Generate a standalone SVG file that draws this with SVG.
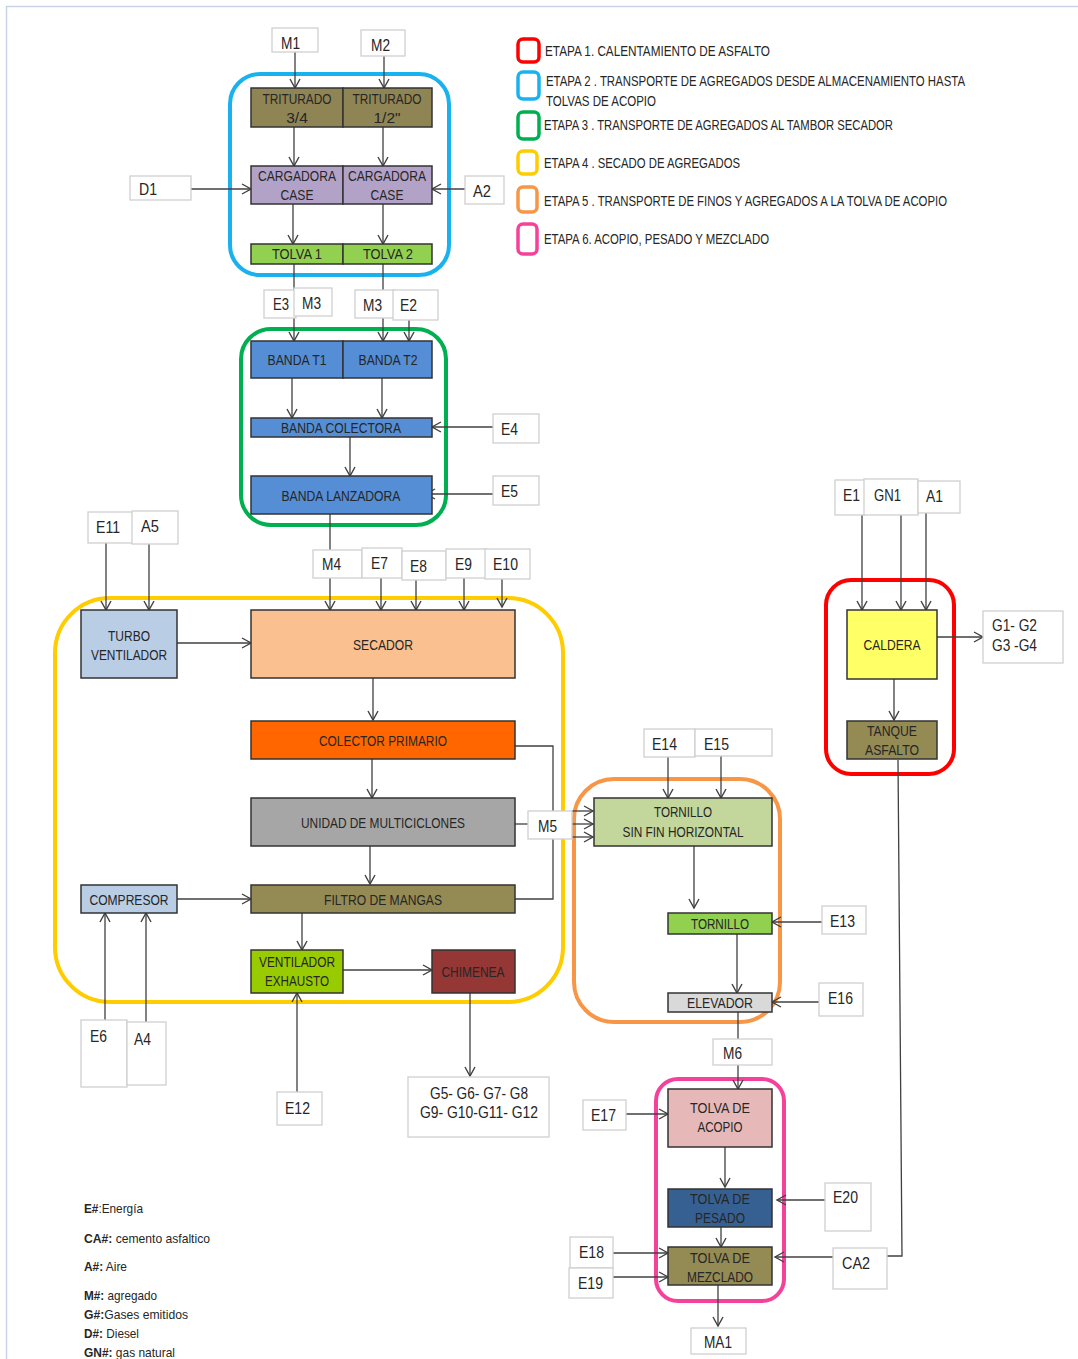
<svg xmlns="http://www.w3.org/2000/svg" width="1078" height="1359" viewBox="0 0 1078 1359">
  <defs>
    <marker id="arr" viewBox="-11 -7 13 14" markerWidth="13" markerHeight="14" refX="0" refY="0" orient="auto" markerUnits="userSpaceOnUse">
      <path d="M-9,-5 L0,0 L-9,5" fill="none" stroke="#404040" stroke-width="1.4"/>
    </marker>
    <style>
      .bg { fill: #ffffff; }
      .frame { stroke: #c8d3e8; stroke-width: 1.5; fill: none; }
      .stage { fill: none; stroke-width: 4; }
      .node { stroke: #333333; stroke-width: 1.5; }
      .lbl { fill: #ffffff; stroke: #d0d0d0; stroke-width: 1.3; }
      .n { font-family: "Liberation Sans", Arial, sans-serif; font-size: 15.5px; fill: #262626; text-anchor: middle; }
      .l { font-family: "Liberation Sans", Arial, sans-serif; font-size: 16.5px; fill: #262626; }
      .lc { font-family: "Liberation Sans", Arial, sans-serif; font-size: 16px; fill: #262626; text-anchor: middle; }
      .leg { font-family: "Liberation Sans", Arial, sans-serif; font-size: 14.5px; fill: #262626; }
      .key { font-family: "Liberation Sans", Arial, sans-serif; font-size: 13px; fill: #262626; }
      .key .b { font-weight: bold; }
      .conn line, .conn polyline { stroke: #404040; stroke-width: 1.3; fill: none; }
      .conn .a { marker-end: url(#arr); }
    </style>
  </defs>

  <rect class="bg" x="0" y="0" width="1078" height="1359"/>
  <path class="frame" d="M6.5,1359 V6.5 H1078"/>

  <!-- stage outlines -->
  <g id="stages">
    <rect class="stage" x="230" y="74" width="219" height="201" rx="30" stroke="#1ab2ee"/>
    <rect class="stage" x="241" y="329" width="205" height="196" rx="30" stroke="#00b050"/>
    <rect class="stage" x="55" y="598" width="508" height="404" rx="55" stroke="#ffcc00"/>
    <rect class="stage" x="574" y="779" width="206" height="243" rx="40" stroke="#f79646" stroke-width="3.5"/>
    <rect class="stage" x="826" y="580" width="128" height="194" rx="25" stroke="#ff0000"/>
    <rect class="stage" x="656" y="1079" width="128" height="222" rx="22" stroke="#f4429b" stroke-width="3.5"/>
  </g>

  <!-- legend of stages -->
  <g id="legend">
    <rect x="518" y="39" width="21" height="23" rx="5" fill="#fff" stroke="#ff0000" stroke-width="3.5"/>
    <rect x="518" y="72" width="21" height="27" rx="5" fill="#fff" stroke="#1ab2ee" stroke-width="3.5"/>
    <rect x="518" y="112" width="21" height="27" rx="5" fill="#fff" stroke="#00b050" stroke-width="3.5"/>
    <rect x="518" y="151" width="19" height="23" rx="5" fill="#fff" stroke="#ffcc00" stroke-width="3.5"/>
    <rect x="518" y="187" width="19" height="25" rx="5" fill="#fff" stroke="#f79646" stroke-width="3.5"/>
    <rect x="518" y="224" width="19" height="30" rx="5" fill="#fff" stroke="#f4429b" stroke-width="3.5"/>
    <text class="leg" x="545" y="56" textLength="225" lengthAdjust="spacingAndGlyphs">ETAPA 1. CALENTAMIENTO DE ASFALTO</text>
    <text class="leg" x="546" y="86" textLength="419" lengthAdjust="spacingAndGlyphs">ETAPA 2 . TRANSPORTE DE AGREGADOS DESDE ALMACENAMIENTO HASTA</text>
    <text class="leg" x="546" y="106" textLength="110" lengthAdjust="spacingAndGlyphs">TOLVAS DE ACOPIO</text>
    <text class="leg" x="544" y="130" textLength="349" lengthAdjust="spacingAndGlyphs">ETAPA 3 . TRANSPORTE DE AGREGADOS AL TAMBOR SECADOR</text>
    <text class="leg" x="544" y="168" textLength="196" lengthAdjust="spacingAndGlyphs">ETAPA 4 . SECADO DE AGREGADOS</text>
    <text class="leg" x="544" y="206" textLength="403" lengthAdjust="spacingAndGlyphs">ETAPA 5 . TRANSPORTE DE FINOS Y AGREGADOS A LA TOLVA DE ACOPIO</text>
    <text class="leg" x="544" y="244" textLength="225" lengthAdjust="spacingAndGlyphs">ETAPA 6. ACOPIO, PESADO Y MEZCLADO</text>
  </g>

  <!-- connectors -->
  <g id="connectors" class="conn">
    <line class="a" x1="295" y1="52" x2="295" y2="88"/>
    <line class="a" x1="384" y1="56" x2="384" y2="88"/>
    <line class="a" x1="294" y1="127" x2="294" y2="166"/>
    <line class="a" x1="383" y1="127" x2="383" y2="166"/>
    <line class="a" x1="191" y1="189" x2="251" y2="189"/>
    <line class="a" x1="465" y1="189" x2="432" y2="189"/>
    <line class="a" x1="293" y1="204" x2="293" y2="244"/>
    <line class="a" x1="383" y1="204" x2="383" y2="244"/>
    <line class="a" x1="294" y1="264" x2="294" y2="341"/>
    <line class="a" x1="383" y1="264" x2="383" y2="341"/>
    <line class="a" x1="409" y1="320" x2="409" y2="341"/>
    <line class="a" x1="292" y1="378" x2="292" y2="418"/>
    <line class="a" x1="382" y1="378" x2="382" y2="418"/>
    <line class="a" x1="493" y1="427" x2="432" y2="427"/>
    <line class="a" x1="350" y1="437" x2="350" y2="476"/>
    <line class="a" x1="493" y1="494" x2="426" y2="494"/>
    <line class="a" x1="330" y1="514" x2="330" y2="610"/>
    <line class="a" x1="381" y1="578" x2="381" y2="610"/>
    <line class="a" x1="416" y1="580" x2="416" y2="610"/>
    <line class="a" x1="464" y1="578" x2="464" y2="610"/>
    <line class="a" x1="502" y1="579" x2="502" y2="607"/>
    <line class="a" x1="106" y1="543" x2="106" y2="610"/>
    <line class="a" x1="149" y1="544" x2="149" y2="610"/>
    <line class="a" x1="177" y1="643" x2="251" y2="643"/>
    <line class="a" x1="373" y1="678" x2="373" y2="720"/>
    <line class="a" x1="372" y1="759" x2="372" y2="798"/>
    <line class="a" x1="370" y1="846" x2="370" y2="884"/>
    <line class="a" x1="177" y1="899" x2="251" y2="899"/>
    <line class="a" x1="105" y1="1020" x2="105" y2="913"/>
    <line class="a" x1="146" y1="1022" x2="146" y2="913"/>
    <line class="a" x1="302" y1="913" x2="302" y2="950"/>
    <line class="a" x1="343" y1="970" x2="432" y2="970"/>
    <line class="a" x1="297" y1="1092" x2="297" y2="993"/>
    <line class="a" x1="470" y1="993" x2="470" y2="1076"/>
    <polyline points="515,746 553,746 553,899 515,899"/>
    <line x1="515" y1="824" x2="528" y2="824"/>
    <line class="a" x1="572" y1="811" x2="593" y2="811"/>
    <line class="a" x1="572" y1="824" x2="593" y2="824"/>
    <line class="a" x1="572" y1="837" x2="593" y2="837"/>
    <line class="a" x1="668" y1="757" x2="668" y2="798"/>
    <line class="a" x1="721" y1="756" x2="721" y2="798"/>
    <line class="a" x1="694" y1="846" x2="694" y2="908"/>
    <line class="a" x1="822" y1="922" x2="772" y2="922"/>
    <line class="a" x1="737" y1="934" x2="737" y2="993"/>
    <line class="a" x1="819" y1="1002" x2="772" y2="1002"/>
    <line x1="738" y1="1012" x2="738" y2="1039"/>
    <line class="a" x1="738" y1="1065" x2="738" y2="1089"/>
    <line class="a" x1="626" y1="1114" x2="668" y2="1114"/>
    <line class="a" x1="725" y1="1147" x2="725" y2="1187"/>
    <line class="a" x1="825" y1="1200" x2="777" y2="1200"/>
    <line class="a" x1="721" y1="1227" x2="721" y2="1247"/>
    <line class="a" x1="613" y1="1253" x2="668" y2="1253"/>
    <line class="a" x1="613" y1="1277" x2="668" y2="1277"/>
    <line class="a" x1="833" y1="1257" x2="775" y2="1257"/>
    <polyline points="898,760 902,1256 887,1256"/>
    <line class="a" x1="718" y1="1285" x2="718" y2="1326"/>
    <line class="a" x1="862" y1="515" x2="862" y2="610"/>
    <line class="a" x1="901" y1="515" x2="901" y2="610"/>
    <line class="a" x1="926" y1="513" x2="926" y2="610"/>
    <line class="a" x1="937" y1="637" x2="983" y2="637"/>
    <line class="a" x1="894" y1="679" x2="894" y2="720"/>
  </g>

  <!-- stage 2: storage to hoppers -->
  <g id="triturado-34"><rect class="node" x="251" y="88" width="92" height="39" fill="#8f8454"/>
    <text class="n" x="297" y="104" textLength="69" lengthAdjust="spacingAndGlyphs">TRITURADO</text>
    <text class="n" x="297" y="123">3/4</text></g>
  <g id="triturado-12"><rect class="node" x="343" y="88" width="89" height="39" fill="#8f8454"/>
    <text class="n" x="387" y="104" textLength="69" lengthAdjust="spacingAndGlyphs">TRITURADO</text>
    <text class="n" x="387" y="123">1/2"</text></g>
  <g id="cargadora-1"><rect class="node" x="251" y="166" width="92" height="38" fill="#b3a2c7"/>
    <text class="n" x="297" y="181" textLength="78" lengthAdjust="spacingAndGlyphs">CARGADORA</text>
    <text class="n" x="297" y="200" textLength="33" lengthAdjust="spacingAndGlyphs">CASE</text></g>
  <g id="cargadora-2"><rect class="node" x="343" y="166" width="89" height="38" fill="#b3a2c7"/>
    <text class="n" x="387" y="181" textLength="78" lengthAdjust="spacingAndGlyphs">CARGADORA</text>
    <text class="n" x="387" y="200" textLength="33" lengthAdjust="spacingAndGlyphs">CASE</text></g>
  <g id="tolva-1"><rect class="node" x="251" y="244" width="92" height="20" fill="#92d050"/>
    <text class="n" x="297" y="259" textLength="50" lengthAdjust="spacingAndGlyphs">TOLVA 1</text></g>
  <g id="tolva-2"><rect class="node" x="343" y="244" width="89" height="20" fill="#92d050"/>
    <text class="n" x="388" y="259" textLength="50" lengthAdjust="spacingAndGlyphs">TOLVA 2</text></g>

  <!-- stage 3: conveyor belts -->
  <g id="banda-t1"><rect class="node" x="251" y="341" width="92" height="37" fill="#558ed5"/>
    <text class="n" x="297" y="365" textLength="59" lengthAdjust="spacingAndGlyphs">BANDA T1</text></g>
  <g id="banda-t2"><rect class="node" x="343" y="341" width="89" height="37" fill="#558ed5"/>
    <text class="n" x="388" y="365" textLength="59" lengthAdjust="spacingAndGlyphs">BANDA T2</text></g>
  <g id="banda-colectora"><rect class="node" x="251" y="418" width="181" height="19" fill="#558ed5"/>
    <text class="n" x="341" y="433" textLength="120" lengthAdjust="spacingAndGlyphs">BANDA COLECTORA</text></g>
  <g id="banda-lanzadora"><rect class="node" x="251" y="476" width="181" height="38" fill="#558ed5"/>
    <text class="n" x="341" y="501" textLength="119" lengthAdjust="spacingAndGlyphs">BANDA LANZADORA</text></g>

  <!-- stage 4: drying -->
  <g id="turbo-ventilador"><rect class="node" x="81" y="610" width="96" height="68" fill="#b9cde5"/>
    <text class="n" x="129" y="641" textLength="42" lengthAdjust="spacingAndGlyphs">TURBO</text>
    <text class="n" x="129" y="660" textLength="76" lengthAdjust="spacingAndGlyphs">VENTILADOR</text></g>
  <g id="secador"><rect class="node" x="251" y="610" width="264" height="68" fill="#fac090"/>
    <text class="n" x="383" y="650" textLength="60" lengthAdjust="spacingAndGlyphs">SECADOR</text></g>
  <g id="colector-primario"><rect class="node" x="251" y="721" width="264" height="38" fill="#ff6600"/>
    <text class="n" x="383" y="746" textLength="128" lengthAdjust="spacingAndGlyphs">COLECTOR PRIMARIO</text></g>
  <g id="multiciclones"><rect class="node" x="251" y="798" width="264" height="48" fill="#a6a6a6"/>
    <text class="n" x="383" y="828" textLength="164" lengthAdjust="spacingAndGlyphs">UNIDAD DE MULTICICLONES</text></g>
  <g id="compresor"><rect class="node" x="81" y="885" width="96" height="28" fill="#b9cde5"/>
    <text class="n" x="129" y="905" textLength="79" lengthAdjust="spacingAndGlyphs">COMPRESOR</text></g>
  <g id="filtro-mangas"><rect class="node" x="251" y="885" width="264" height="28" fill="#948a54"/>
    <text class="n" x="383" y="905" textLength="118" lengthAdjust="spacingAndGlyphs">FILTRO DE MANGAS</text></g>
  <g id="ventilador-exhausto"><rect class="node" x="251" y="950" width="92" height="43" fill="#99cc00"/>
    <text class="n" x="297" y="967" textLength="76" lengthAdjust="spacingAndGlyphs">VENTILADOR</text>
    <text class="n" x="297" y="986" textLength="64" lengthAdjust="spacingAndGlyphs">EXHAUSTO</text></g>
  <g id="chimenea"><rect class="node" x="432" y="950" width="83" height="43" fill="#953735"/>
    <text class="n" x="473" y="977" textLength="63" lengthAdjust="spacingAndGlyphs">CHIMENEA</text></g>

  <!-- stage 5: fines transport -->
  <g id="tornillo-sin-fin"><rect class="node" x="594" y="798" width="178" height="48" fill="#c3d69b"/>
    <text class="n" x="683" y="817" textLength="58" lengthAdjust="spacingAndGlyphs">TORNILLO</text>
    <text class="n" x="683" y="837" textLength="121" lengthAdjust="spacingAndGlyphs">SIN FIN HORIZONTAL</text></g>
  <g id="tornillo"><rect class="node" x="668" y="913" width="104" height="21" fill="#92d050"/>
    <text class="n" x="720" y="929" textLength="58" lengthAdjust="spacingAndGlyphs">TORNILLO</text></g>
  <g id="elevador"><rect class="node" x="668" y="993" width="104" height="19" fill="#d9d9d9"/>
    <text class="n" x="720" y="1008" textLength="66" lengthAdjust="spacingAndGlyphs">ELEVADOR</text></g>

  <!-- stage 1: asphalt heating -->
  <g id="caldera"><rect class="node" x="847" y="610" width="90" height="69" fill="#ffff66"/>
    <text class="n" x="892" y="650" textLength="57" lengthAdjust="spacingAndGlyphs">CALDERA</text></g>
  <g id="tanque-asfalto"><rect class="node" x="847" y="721" width="90" height="38" fill="#948a54"/>
    <text class="n" x="892" y="736" textLength="50" lengthAdjust="spacingAndGlyphs">TANQUE</text>
    <text class="n" x="892" y="755" textLength="54" lengthAdjust="spacingAndGlyphs">ASFALTO</text></g>

  <!-- stage 6: storage, weighing, mixing -->
  <g id="tolva-acopio"><rect class="node" x="668" y="1089" width="104" height="58" fill="#e6b9b8"/>
    <text class="n" x="720" y="1113" textLength="60" lengthAdjust="spacingAndGlyphs">TOLVA DE</text>
    <text class="n" x="720" y="1132" textLength="45" lengthAdjust="spacingAndGlyphs">ACOPIO</text></g>
  <g id="tolva-pesado"><rect class="node" x="668" y="1189" width="104" height="38" fill="#376092"/>
    <text class="n" x="720" y="1204" textLength="60" lengthAdjust="spacingAndGlyphs">TOLVA DE</text>
    <text class="n" x="720" y="1223" textLength="50" lengthAdjust="spacingAndGlyphs">PESADO</text></g>
  <g id="tolva-mezclado"><rect class="node" x="668" y="1247" width="104" height="38" fill="#948a54"/>
    <text class="n" x="720" y="1263" textLength="60" lengthAdjust="spacingAndGlyphs">TOLVA DE</text>
    <text class="n" x="720" y="1282" textLength="66" lengthAdjust="spacingAndGlyphs">MEZCLADO</text></g>

  <!-- flow labels -->
  <g id="lbl-m1"><rect class="lbl" x="272" y="28" width="46" height="24"/><text class="l" x="281" y="49" textLength="19" lengthAdjust="spacingAndGlyphs">M1</text></g>
  <g id="lbl-m2"><rect class="lbl" x="361" y="30" width="44" height="26"/><text class="l" x="371" y="51" textLength="19" lengthAdjust="spacingAndGlyphs">M2</text></g>
  <g id="lbl-d1"><rect class="lbl" x="130" y="176" width="61" height="24"/><text class="l" x="139" y="195" textLength="18" lengthAdjust="spacingAndGlyphs">D1</text></g>
  <g id="lbl-a2"><rect class="lbl" x="465" y="176" width="39" height="28"/><text class="l" x="473" y="197" textLength="18" lengthAdjust="spacingAndGlyphs">A2</text></g>
  <g id="lbl-e3"><rect class="lbl" x="264" y="290" width="32" height="28"/><text class="l" x="273" y="310" textLength="16" lengthAdjust="spacingAndGlyphs">E3</text></g>
  <g id="lbl-m3a"><rect class="lbl" x="294" y="288" width="38" height="28"/><text class="l" x="302" y="309" textLength="19" lengthAdjust="spacingAndGlyphs">M3</text></g>
  <g id="lbl-m3b"><rect class="lbl" x="355" y="290" width="40" height="28"/><text class="l" x="363" y="311" textLength="19" lengthAdjust="spacingAndGlyphs">M3</text></g>
  <g id="lbl-e2"><rect class="lbl" x="393" y="290" width="45" height="30"/><text class="l" x="400" y="311" textLength="17" lengthAdjust="spacingAndGlyphs">E2</text></g>
  <g id="lbl-e4"><rect class="lbl" x="493" y="414" width="46" height="29"/><text class="l" x="501" y="435" textLength="17" lengthAdjust="spacingAndGlyphs">E4</text></g>
  <g id="lbl-e5"><rect class="lbl" x="493" y="476" width="46" height="29"/><text class="l" x="501" y="497" textLength="17" lengthAdjust="spacingAndGlyphs">E5</text></g>
  <g id="lbl-e11"><rect class="lbl" x="88" y="512" width="45" height="31"/><text class="l" x="96" y="533" textLength="24" lengthAdjust="spacingAndGlyphs">E11</text></g>
  <g id="lbl-a5"><rect class="lbl" x="132" y="511" width="46" height="33"/><text class="l" x="141" y="532" textLength="18" lengthAdjust="spacingAndGlyphs">A5</text></g>
  <g id="lbl-m4"><rect class="lbl" x="313" y="550" width="49" height="28"/><text class="l" x="322" y="570" textLength="19" lengthAdjust="spacingAndGlyphs">M4</text></g>
  <g id="lbl-e7"><rect class="lbl" x="362" y="548" width="40" height="30"/><text class="l" x="371" y="569" textLength="17" lengthAdjust="spacingAndGlyphs">E7</text></g>
  <g id="lbl-e8"><rect class="lbl" x="402" y="551" width="44" height="29"/><text class="l" x="410" y="572" textLength="17" lengthAdjust="spacingAndGlyphs">E8</text></g>
  <g id="lbl-e9"><rect class="lbl" x="446" y="549" width="41" height="29"/><text class="l" x="455" y="570" textLength="17" lengthAdjust="spacingAndGlyphs">E9</text></g>
  <g id="lbl-e10"><rect class="lbl" x="485" y="549" width="45" height="30"/><text class="l" x="493" y="570" textLength="25" lengthAdjust="spacingAndGlyphs">E10</text></g>
  <g id="lbl-e1"><rect class="lbl" x="835" y="480" width="30" height="35"/><text class="l" x="843" y="501" textLength="17" lengthAdjust="spacingAndGlyphs">E1</text></g>
  <g id="lbl-gn1"><rect class="lbl" x="864" y="479" width="54" height="36"/><text class="l" x="874" y="501" textLength="27" lengthAdjust="spacingAndGlyphs">GN1</text></g>
  <g id="lbl-a1"><rect class="lbl" x="918" y="481" width="42" height="32"/><text class="l" x="926" y="502" textLength="17" lengthAdjust="spacingAndGlyphs">A1</text></g>
  <g id="lbl-g1-g4"><rect class="lbl" x="983" y="611" width="80" height="52"/>
    <text class="l" x="992" y="631" textLength="45" lengthAdjust="spacingAndGlyphs">G1- G2</text>
    <text class="l" x="992" y="651" textLength="45" lengthAdjust="spacingAndGlyphs">G3 -G4</text></g>
  <g id="lbl-e14"><rect class="lbl" x="644" y="729" width="51" height="28"/><text class="l" x="652" y="750" textLength="25" lengthAdjust="spacingAndGlyphs">E14</text></g>
  <g id="lbl-e15"><rect class="lbl" x="695" y="729" width="77" height="27"/><text class="l" x="704" y="750" textLength="25" lengthAdjust="spacingAndGlyphs">E15</text></g>
  <g id="lbl-m5"><rect class="lbl" x="528" y="811" width="44" height="28"/><text class="l" x="538" y="832" textLength="19" lengthAdjust="spacingAndGlyphs">M5</text></g>
  <g id="lbl-e13"><rect class="lbl" x="822" y="906" width="44" height="28"/><text class="l" x="830" y="927" textLength="25" lengthAdjust="spacingAndGlyphs">E13</text></g>
  <g id="lbl-e16"><rect class="lbl" x="819" y="983" width="44" height="33"/><text class="l" x="828" y="1004" textLength="25" lengthAdjust="spacingAndGlyphs">E16</text></g>
  <g id="lbl-e6"><rect class="lbl" x="81" y="1020" width="46" height="67"/><text class="l" x="90" y="1042" textLength="17" lengthAdjust="spacingAndGlyphs">E6</text></g>
  <g id="lbl-a4"><rect class="lbl" x="127" y="1022" width="39" height="63"/><text class="l" x="134" y="1045" textLength="17" lengthAdjust="spacingAndGlyphs">A4</text></g>
  <g id="lbl-e12"><rect class="lbl" x="277" y="1092" width="45" height="33"/><text class="l" x="285" y="1114" textLength="25" lengthAdjust="spacingAndGlyphs">E12</text></g>
  <g id="lbl-g5-g12"><rect class="lbl" x="408" y="1077" width="141" height="60"/>
    <text class="lc" x="479" y="1099" textLength="98" lengthAdjust="spacingAndGlyphs">G5- G6- G7- G8</text>
    <text class="lc" x="479" y="1118" textLength="118" lengthAdjust="spacingAndGlyphs">G9- G10-G11- G12</text></g>
  <g id="lbl-m6"><rect class="lbl" x="713" y="1039" width="59" height="26"/><text class="l" x="723" y="1059" textLength="19" lengthAdjust="spacingAndGlyphs">M6</text></g>
  <g id="lbl-e17"><rect class="lbl" x="583" y="1100" width="43" height="30"/><text class="l" x="591" y="1121" textLength="25" lengthAdjust="spacingAndGlyphs">E17</text></g>
  <g id="lbl-e20"><rect class="lbl" x="825" y="1183" width="46" height="48"/><text class="l" x="833" y="1203" textLength="25" lengthAdjust="spacingAndGlyphs">E20</text></g>
  <g id="lbl-e18"><rect class="lbl" x="570" y="1237" width="43" height="31"/><text class="l" x="579" y="1258" textLength="25" lengthAdjust="spacingAndGlyphs">E18</text></g>
  <g id="lbl-e19"><rect class="lbl" x="569" y="1268" width="44" height="30"/><text class="l" x="578" y="1289" textLength="25" lengthAdjust="spacingAndGlyphs">E19</text></g>
  <g id="lbl-ca2"><rect class="lbl" x="833" y="1248" width="54" height="41"/><text class="l" x="842" y="1269" textLength="28" lengthAdjust="spacingAndGlyphs">CA2</text></g>
  <g id="lbl-ma1"><rect class="lbl" x="691" y="1328" width="55" height="26"/><text class="l" x="704" y="1348" textLength="28" lengthAdjust="spacingAndGlyphs">MA1</text></g>

  <!-- symbol key -->
  <g id="key" class="key">
    <text x="84" y="1213" textLength="59" lengthAdjust="spacingAndGlyphs"><tspan class="b">E#</tspan>:Energía</text>
    <text x="84" y="1243" textLength="126" lengthAdjust="spacingAndGlyphs"><tspan class="b">CA#:</tspan> cemento asfaltico</text>
    <text x="84" y="1271" textLength="43" lengthAdjust="spacingAndGlyphs"><tspan class="b">A#:</tspan> Aire</text>
    <text x="84" y="1300" textLength="73" lengthAdjust="spacingAndGlyphs"><tspan class="b">M#:</tspan> agregado</text>
    <text x="84" y="1319" textLength="104" lengthAdjust="spacingAndGlyphs"><tspan class="b">G#:</tspan>Gases emitidos</text>
    <text x="84" y="1338" textLength="55" lengthAdjust="spacingAndGlyphs"><tspan class="b">D#:</tspan> Diesel</text>
    <text x="84" y="1357" textLength="91" lengthAdjust="spacingAndGlyphs"><tspan class="b">GN#:</tspan> gas natural</text>
  </g>
</svg>
